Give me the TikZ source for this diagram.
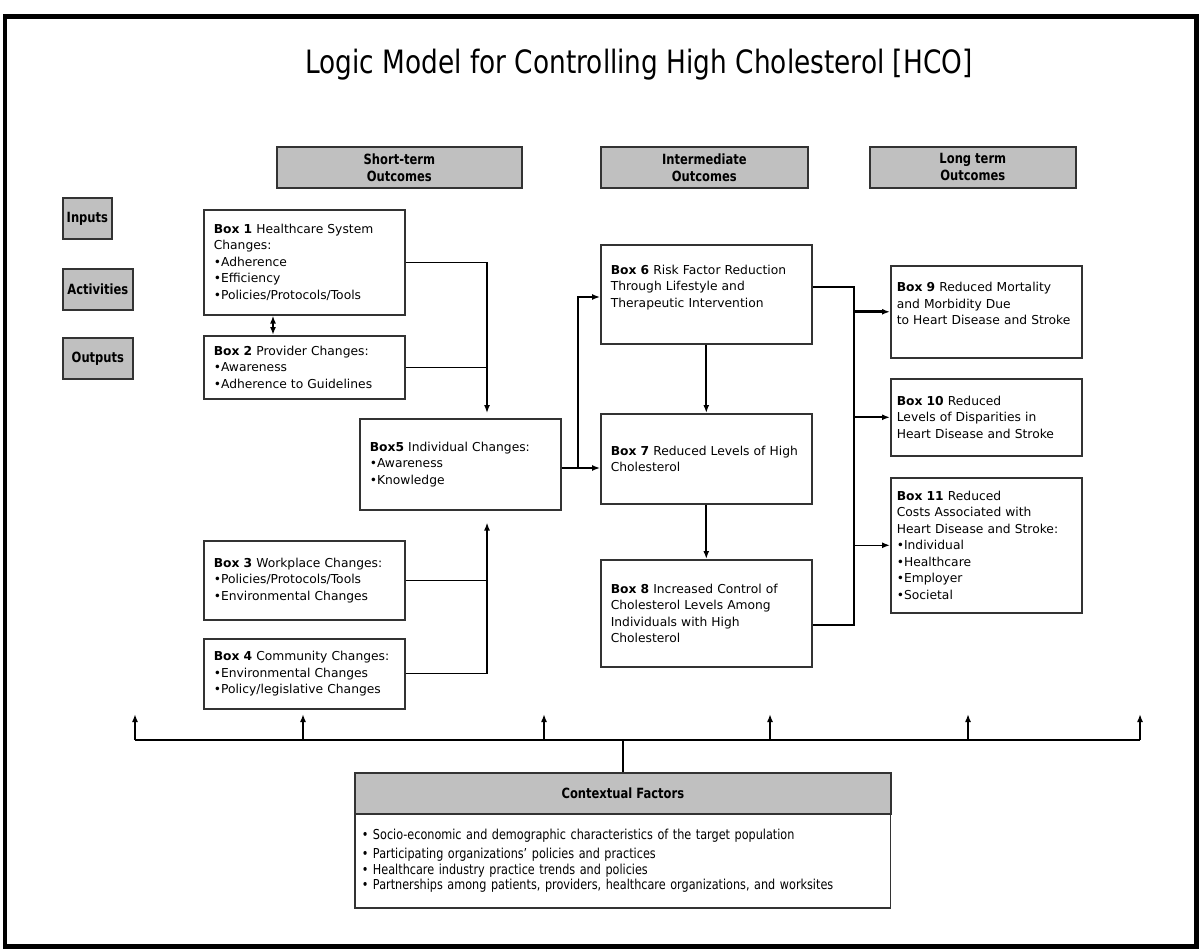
\documentclass[tikz,border=0pt]{standalone}
\usepackage{fontspec}
\setmainfont{DejaVu Sans}
\newfontfamily\condfont{DejaVu Sans}[FakeStretch=0.82]
\usetikzlibrary{arrows.meta}
\definecolor{hdrgrey}{HTML}{C0C0C0}
\definecolor{edge}{HTML}{333333}

\begin{document}
\begin{tikzpicture}[
  x=0.02cm, y=-0.02cm, >={Latex[length=0.16cm,width=0.12cm]},
  box/.style={draw=edge, line width=0.9pt, fill=white, anchor=north west, align=left,
              inner xsep=0.2cm, inner ysep=0.05cm, font=\fontsize{7}{9.4}\selectfont},
  hdr/.style={draw=edge, line width=1pt, fill=hdrgrey, anchor=north west, align=center,
              inner sep=0pt, font=\condfont\bfseries\fontsize{8}{9.6}\selectfont},
  link/.style={draw=black, line width=0.8pt},
  arr/.style={link, ->},
]
  \useasboundingbox (0,0) rectangle (1199,949);
  \draw[line width=0.1cm] (5,17) rectangle (1196,946);

  \node[font=\condfont\fontsize{18.3}{22}\selectfont] (title) at (639,65)
        {Logic Model for Controlling High Cholesterol [HCO]};

  % column heads
  \node[hdr, minimum width=4.90cm, minimum height=0.82cm] (hshort) at (276,146) {Short-term\\Outcomes};
  \node[hdr, minimum width=4.14cm, minimum height=0.82cm] (hinter) at (600,146) {Intermediate\\Outcomes};
  \node[hdr, minimum width=4.12cm, minimum height=0.82cm] (hlong)  at (869,146) {Long term\\Outcomes};

  % legend
  \node[hdr, minimum width=0.98cm, minimum height=0.82cm] (inputs)     at (62,197) {Inputs};
  \node[hdr, minimum width=1.40cm, minimum height=0.82cm] (activities) at (62,268) {Activities};
  \node[hdr, minimum width=1.40cm, minimum height=0.82cm] (outputs)    at (62,337) {Outputs};

  % short-term
  \node[box, text width=3.62cm, minimum height=2.10cm] (b1) at (203,209)
        {\textbf{Box 1} Healthcare System\\Changes:\\•Adherence\\•Efficiency\\•Policies/Protocols/Tools};
  \node[box, text width=3.62cm, minimum height=1.26cm] (b2) at (203,335)
        {\textbf{Box 2} Provider Changes:\\•Awareness\\•Adherence to Guidelines};
  \node[box, text width=3.62cm, minimum height=1.82cm] (b5) at (359,418)
        {\textbf{Box5} Individual Changes:\\•Awareness\\•Knowledge};
  \node[box, text width=3.62cm, minimum height=1.58cm] (b3) at (203,540)
        {\textbf{Box 3} Workplace Changes:\\•Policies/Protocols/Tools\\•Environmental Changes};
  \node[box, text width=3.62cm, minimum height=1.40cm] (b4) at (203,638)
        {\textbf{Box 4} Community Changes:\\•Environmental Changes\\•Policy/legislative Changes};

  % intermediate
  \node[box, text width=3.82cm, minimum height=1.98cm] (b6) at (600,244)
        {\textbf{Box 6} Risk Factor Reduction\\Through Lifestyle and\\Therapeutic Intervention\\~};
  \node[box, text width=3.82cm, minimum height=1.80cm] (b7) at (600,413)
        {\textbf{Box 7} Reduced Levels of High\\Cholesterol};
  \node[box, text width=3.82cm, minimum height=2.14cm] (b8) at (600,559)
        {\textbf{Box 8} Increased Control of\\Cholesterol Levels Among\\Individuals with High\\Cholesterol};

  % long term
  \node[box, inner xsep=0.12cm, text width=3.58cm, minimum height=1.84cm] (b9) at (890,265)
        {\textbf{Box 9} Reduced Mortality\\and Morbidity Due\\to Heart Disease and Stroke\\~};
  \node[box, inner xsep=0.12cm, text width=3.58cm, minimum height=1.54cm] (b10) at (890,378)
        {\textbf{Box 10} Reduced\\Levels of Disparities in\\Heart Disease and Stroke};
  \node[box, inner xsep=0.12cm, text width=3.58cm, minimum height=2.70cm] (b11) at (890,477)
        {\textbf{Box 11} Reduced\\Costs Associated with\\Heart Disease and Stroke:\\•Individual\\•Healthcare\\•Employer\\•Societal};

  % contextual factors
  \node[hdr, minimum width=10.72cm, minimum height=0.82cm] (ctxhead) at (354,772) {Contextual Factors};
  \node[box, text width=10.44cm, inner xsep=0.14cm, minimum height=1.88cm,
        font=\condfont\fontsize{7.8}{8.8}\selectfont] (ctxbody) at (354,813)
        {• Socio-economic and demographic characteristics of the target population\\[2pt]
         • Participating organizations’ policies and practices\\
         • Healthcare industry practice trends and policies\\
         • Partnerships among patients, providers, healthcare organizations, and worksites};

  % short-term links
  \coordinate (j12) at (487,258);
  \coordinate (v12) at (273,0);
  \draw[link, <->, line width=1.2pt] (v12 |- b1.south) -- (v12 |- b2.north);
  \draw[arr, shorten >=0.1cm] (b1.east) -| (j12 |- b5.north);
  \draw[link] (b2.east) -- (b2.east -| j12);
  \draw[link] (b3.east) -- (b3.east -| j12);
  \draw[arr, shorten >=0.24cm] (b4.east) -| (j12 |- b5.south);

  % into intermediate
  \coordinate (j57) at (578,468);
  \coordinate (j6) at (578,297);
  \draw[link] (b5.east |- j57) -- (j57);
  \draw[arr] (j57) -- (b7.west |- j57);
  \draw[arr] (j57) -- (j6) -- (b6.west |- j6);
  \draw[arr, line width=1.1pt] (b6) -- (b7);
  \draw[arr, line width=1.1pt] (b7) -- (b8);

  % into long term
  \coordinate (j69) at (854,287);
  \coordinate (j8) at (854,625);
  \draw[link] (b6.east |- j69) -- (j69) -- (j8) -- (b8.east |- j8);
  \draw[arr, line width=1.5pt] (b9.west -| j69) -- (b9.west);
  \draw[arr, line width=1.1pt] (b10.west -| j69) -- (b10.west);
  \draw[arr] (b11.west -| j69) -- (b11.west);

  % context bar
  \foreach \x [count=\i] in {135,303,544,770,968,1140} {
    \coordinate (s\i) at (\x,740);
    \coordinate (t\i) at (\x,714);
    \draw[arr, line width=1.1pt] (s\i) -- (t\i);
  }
  \draw[link, line width=1pt] (s1) -- (s6);
  \draw[link] (ctxhead.north) -- (ctxhead.north |- s1);
\end{tikzpicture}
\end{document}
